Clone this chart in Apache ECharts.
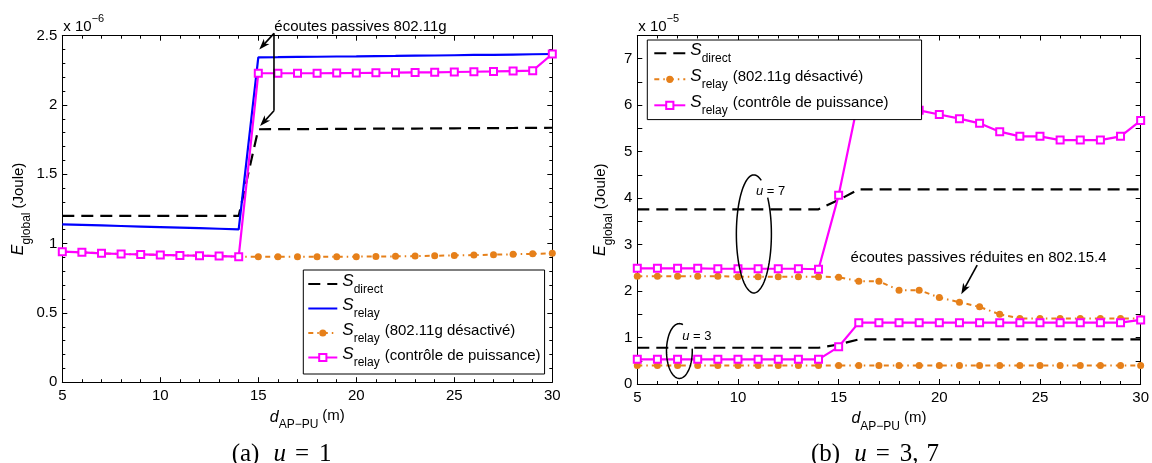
<!DOCTYPE html>
<html><head><meta charset="utf-8">
<script src="https://cdn.jsdelivr.net/npm/echarts@6/dist/echarts.min.js"></script>
<style>html,body{margin:0;padding:0;background:#fff}#c{width:1152px;height:463px}</style>
</head><body><div id="c"></div>
<script>
// ---------- DATA ----------
const xs = [5,6,7,8,9,10,11,12,13,14,15,16,17,18,19,20,21,22,23,24,25,26,27,28,29,30];
// (a) u = 1, values in units of 1e-6 J
const a_direct   = [1.2,1.2,1.2,1.2,1.2,1.2,1.2,1.2,1.2,1.2,1.825,1.826,1.826,1.827,1.828,1.828,1.829,1.830,1.830,1.831,1.832,1.833,1.833,1.834,1.835,1.836];
const a_relay    = [1.139,1.135,1.131,1.127,1.123,1.119,1.115,1.111,1.107,1.103,2.344,2.345,2.347,2.348,2.350,2.351,2.353,2.354,2.356,2.357,2.359,2.361,2.362,2.364,2.366,2.368];
const a_relayOff = [0.942,0.937,0.930,0.925,0.922,0.918,0.915,0.913,0.910,0.906,0.906,0.905,0.905,0.905,0.906,0.906,0.907,0.908,0.910,0.912,0.915,0.917,0.920,0.923,0.926,0.930];
const a_relayPc  = [0.942,0.937,0.930,0.925,0.922,0.918,0.915,0.913,0.910,0.906,2.229,2.229,2.229,2.229,2.230,2.231,2.232,2.233,2.235,2.236,2.238,2.240,2.242,2.245,2.248,2.368];
// (b) u = 3, 7, values in units of 1e-5 J
const b_direct7   = [3.76,3.76,3.76,3.76,3.76,3.76,3.76,3.76,3.76,3.76,3.96,4.19,4.19,4.19,4.19,4.19,4.19,4.19,4.19,4.19,4.19,4.19,4.19,4.19,4.19,4.19];
const b_relayOff7 = [2.32,2.32,2.32,2.32,2.32,2.31,2.31,2.31,2.31,2.31,2.30,2.21,2.21,2.02,2.02,1.86,1.76,1.66,1.50,1.41,1.41,1.41,1.41,1.41,1.41,1.41];
const b_relayPc7  = [2.49,2.49,2.49,2.49,2.48,2.48,2.48,2.48,2.48,2.47,4.06,6.15,6.05,5.97,5.89,5.80,5.71,5.61,5.43,5.33,5.33,5.25,5.25,5.25,5.33,5.67];
const b_direct3   = [0.78,0.78,0.78,0.78,0.78,0.78,0.78,0.78,0.78,0.78,0.85,0.96,0.96,0.96,0.96,0.96,0.96,0.96,0.96,0.96,0.96,0.96,0.96,0.96,0.96,0.96];
const b_relayOff3 = [0.40,0.40,0.40,0.40,0.40,0.40,0.40,0.40,0.40,0.40,0.40,0.40,0.40,0.40,0.40,0.40,0.40,0.40,0.40,0.40,0.40,0.40,0.40,0.40,0.40,0.40];
const b_relayPc3  = [0.53,0.53,0.53,0.53,0.53,0.53,0.53,0.53,0.53,0.53,0.80,1.32,1.32,1.32,1.32,1.32,1.32,1.32,1.32,1.32,1.32,1.32,1.32,1.32,1.32,1.38];
// axis ranges / ticks
const xRange = [5, 30], xStep = 5;
const yRangeA = [0, 2.5], yStepA = 0.5;
const yRangeB = [0, 7.5], yStepB = 0.5;
// texts
const legendText = {
  S_direct: '{s|S}{sub|direct}',
  S_relay: '{s|S}{sub|relay}',
  S_relay_off: '{s|S}{sub|relay}{t|(802.11g désactivé)}',
  S_relay_pc: '{s|S}{sub|relay}{t|(contrôle de puissance)}'
};
const annotA = 'écoutes passives 802.11g';
const annotB = 'écoutes passives réduites en 802.15.4';

// ---------- STYLE ----------
const ff = "'Liberation Sans', Arial, Helvetica, sans-serif";
const serif = "'Liberation Serif', 'DejaVu Serif', serif";
const STY = {
  S_direct:    {color:'#000000', width:2.2, type:[12,7], symbol:'none'},
  S_relay:     {color:'#0000ff', width:2.2, type:'solid', symbol:'none'},
  S_relay_off: {color:'#e6801a', width:2, type:[5,4,1.5,4], symbol:'circle', size:7},
  S_relay_pc:  {color:'#ff00ff', width:2.2, type:'solid', symbol:'emptyRect', size:7}
};
function ser(name, ys, ax){
  const s = STY[name];
  return {
    type:'line', name, xAxisIndex:ax, yAxisIndex:ax,
    data: xs.map((x,i)=>[x, ys[i]]),
    symbol: s.symbol === 'none' ? 'none' : s.symbol, symbolSize: s.size || 0,
    showSymbol: s.symbol !== 'none',
    itemStyle:{color:s.color},
    lineStyle:{color:s.color, width:s.width, type:s.type},
    emphasis:{disabled:true}, silent:true, animation:false
  };
}
function xAx(gi, pos, show){
  return {
    type:'value', gridIndex:gi, position:pos, min:xRange[0], max:xRange[1], interval:xStep,
    axisLine:{show:true, onZero:false, lineStyle:{color:'#000', width:1}},
    axisTick:{show:true, inside:true, length:5, lineStyle:{color:'#000', width:1}},
    minorTick:{show:true, splitNumber:5, length:3, lineStyle:{color:'#000', width:1}},
    splitLine:{show:false}, minorSplitLine:{show:false},
    axisLabel:{show:show, color:'#000', fontFamily:ff, fontSize:15, margin:6},
    name: show ? '{d|d}{sub|AP\u2212PU}{t|(m)}' : '',
    nameLocation:'middle', nameGap:20,
    nameTextStyle:{fontFamily:ff, fontSize:15, color:'#000', rich:{
      d:{fontFamily:ff, fontSize:16, fontStyle:'italic', color:'#000', verticalAlign:'bottom', padding:[0,0,6,0]},
      sub:{fontFamily:ff, fontSize:12, color:'#000', verticalAlign:'bottom'},
      t:{fontFamily:ff, fontSize:15, color:'#000', verticalAlign:'bottom', padding:[0,0,8,4]}
    }}
  };
}
function yAx(gi, pos, show, range, step, minorSplit, intOnly){
  return {
    type:'value', gridIndex:gi, position:pos, min:range[0], max:range[1], interval:step,
    axisLine:{show:true, onZero:false, lineStyle:{color:'#000', width:1}},
    axisTick:{show:true, inside:true, length:5, lineStyle:{color:'#000', width:1}},
    minorTick:{show:minorSplit>0, splitNumber:minorSplit||1, length:3, lineStyle:{color:'#000', width:1}},
    splitLine:{show:false}, minorSplitLine:{show:false},
    axisLabel:{show:show, color:'#000', fontFamily:ff, fontSize:15, margin:5,
      formatter: v => intOnly ? (Math.abs(v-Math.round(v))<1e-9 ? String(Math.round(v)) : '') : String(+v.toFixed(2))},
    name: show ? '{e|E}{sub|global}{t|(Joule)}' : '',
    nameLocation:'middle', nameRotate:90, nameGap: gi===0 ? 28 : 23,
    nameTextStyle:{fontFamily:ff, fontSize:15, color:'#000', rich:{
      e:{fontFamily:ff, fontSize:16, fontStyle:'italic', color:'#000', verticalAlign:'bottom', padding:[0,0,6,0]},
      sub:{fontFamily:ff, fontSize:12, color:'#000', verticalAlign:'bottom'},
      t:{fontFamily:ff, fontSize:15, color:'#000', verticalAlign:'bottom', padding:[0,0,6,4]}
    }}
  };
}
const richLeg = {
  s:{fontFamily:ff, fontSize:17, fontStyle:'italic', color:'#000', verticalAlign:'bottom', padding:[0,0,6,0]},
  sub:{fontFamily:ff, fontSize:12, color:'#000', verticalAlign:'bottom'},
  t:{fontFamily:ff, fontSize:15, color:'#000', verticalAlign:'bottom', padding:[0,0,6,5]}
};
function legend(left, top, names, gap, pad, iw){
  return {
    orient:'vertical', left, top, selectedMode:false,
    data: names.map(n => STY[n].symbol === 'none' ? {name:n, itemStyle:{opacity:0}} : n),
    formatter: n => legendText[n],
    textStyle:{fontFamily:ff, fontSize:15, color:'#000', rich:richLeg},
    itemWidth:iw, itemHeight:9, itemGap:gap, padding:pad,
    borderColor:'#000', borderWidth:1, backgroundColor:'#fff', z:10
  };
}

const chart = echarts.init(document.getElementById('c'));
chart.setOption({
  animation:false, backgroundColor:'#fff',
  grid:[
    {left:62.3, top:35.7, width:490, height:346.5},
    {left:637.3, top:35.5, width:507, height:348.5}
  ],
  xAxis:[xAx(0,'bottom',true), xAx(0,'top',false), xAx(1,'bottom',true), xAx(1,'top',false)],
  yAxis:[
    yAx(0,'left',true,yRangeA,yStepA,5,false), yAx(0,'right',false,yRangeA,yStepA,5,false),
    yAx(1,'left',true,yRangeB,yStepB,0,true), yAx(1,'right',false,yRangeB,yStepB,0,true)
  ],
  legend:[
    legend(303.3, 270, ['S_direct','S_relay','S_relay_off','S_relay_pc'], 1.5, [2.5,4,5,4], 29),
    legend(647.3, 40, ['S_direct','S_relay_off','S_relay_pc'], 3, [1.8,33,2.8,6], 31)
  ],
  series:[
    ser('S_direct', a_direct, 0),
    ser('S_relay', a_relay, 0),
    ser('S_relay_off', a_relayOff, 0),
    ser('S_relay_pc', a_relayPc, 0),
    ser('S_direct', b_direct7, 2),
    ser('S_relay_off', b_relayOff7, 2),
    ser('S_relay_pc', b_relayPc7, 2),
    ser('S_direct', b_direct3, 2),
    ser('S_relay_off', b_relayOff3, 2),
    ser('S_relay_pc', b_relayPc3, 2)
  ]
});

// ---------- ANNOTATIONS (placed via data->pixel conversion) ----------
function P(g, x, y){ const i = g===0 ? 0 : 2; return chart.convertToPixel({xAxisIndex:i, yAxisIndex:i}, [x, y]); }
const K = '#000';
function arrow(p0, p1){
  const dx=p1[0]-p0[0], dy=p1[1]-p0[1], L=Math.hypot(dx,dy), ux=dx/L, uy=dy/L, nx=-uy, ny=ux;
  const hl=11, hw=3.8, nd=3;
  const b=[p1[0]-ux*hl, p1[1]-uy*hl];
  return [
    {type:'line', z:30, shape:{x1:p0[0],y1:p0[1],x2:p1[0]-ux*5,y2:p1[1]-uy*5}, style:{stroke:K, lineWidth:1.6}},
    {type:'polygon', z:30, shape:{points:[p1,[b[0]+nx*hw,b[1]+ny*hw],[p1[0]-ux*(hl-nd),p1[1]-uy*(hl-nd)],[b[0]-nx*hw,b[1]-ny*hw]]}, style:{fill:K}}
  ];
}
function ellArc(g, cx, cy, rxd, ryd, a1, a2){
  const c = P(g, cx, cy), r1 = P(g, cx+rxd, cy), r2 = P(g, cx, cy+ryd);
  const rx = Math.abs(r1[0]-c[0]), ry = Math.abs(r2[1]-c[1]);
  const pts = [];
  const n = 90;
  for (let k=0;k<=n;k++){ const t=(a1+(a2-a1)*k/n)*Math.PI/180; pts.push([c[0]+rx*Math.cos(t), c[1]+ry*Math.sin(t)]); }
  return {type:'polyline', z:30, shape:{points:pts}, style:{stroke:K, lineWidth:1.5, fill:null}};
}
function txt(p, text, opt){
  return {type:'text', z:31, style:Object.assign({x:p[0], y:p[1], text, fill:'#000', font:'15px '+ff, align:'left', verticalAlign:'middle'}, opt||{})};
}
const els = [];
// (a)
const aTop = P(0, 15.8, 2.517), aBot = P(0, 15.8, 1.959);
els.push({type:'line', z:30, shape:{x1:aTop[0],y1:aTop[1],x2:aBot[0],y2:aBot[1]}, style:{stroke:K, lineWidth:1.6}});
els.push(...arrow(aTop, P(0, 15.05, 2.40)));
els.push(...arrow(aBot, P(0, 15.09, 1.848)));
els.push(txt(P(0, 15.82, 2.566), annotA));
// (b)
els.push(txt(P(1, 21.95, 2.72), annotB, {align:'center'}));
els.push(...arrow(P(1, 21.88, 2.56), P(1, 21.09, 1.93)));
els.push(ellArc(1, 10.79, 3.23, 0.87, 1.27, -65, -398));
els.push(ellArc(1, 7.09, 0.71, 0.64, 0.59, -74, -365));
const uRich = {i:{fontFamily:ff, fontSize:13, fontStyle:'italic', fill:'#000'}, n:{fontFamily:ff, fontSize:13, fill:'#000'}};
els.push({type:'text', z:31, style:{x:P(1,11.62,4.14)[0], y:P(1,11.62,4.14)[1], text:'{i|u}{n| = 7}', rich:uRich, align:'center', verticalAlign:'middle'}});
els.push({type:'text', z:31, style:{x:P(1,7.96,1.03)[0], y:P(1,7.96,1.03)[1], text:'{i|u}{n| = 3}', rich:uRich, align:'center', verticalAlign:'middle'}});
// exponent labels
const expRich = {n:{fontFamily:ff, fontSize:15, fill:'#000', verticalAlign:'top', padding:[6,0,0,0]}, p:{fontFamily:ff, fontSize:11, fill:'#000', verticalAlign:'top'}};
const ca = P(0, 5, 2.5), cb = P(1, 5, 7.5);
els.push({type:'text', z:31, style:{x:ca[0]+1, y:ca[1]-22.5, text:'{n|x 10}{p|\u22126}', rich:expRich, align:'left', verticalAlign:'top'}});
els.push({type:'text', z:31, style:{x:cb[0]+1, y:cb[1]-22.5, text:'{n|x 10}{p|\u22125}', rich:expRich, align:'left', verticalAlign:'top'}});
// captions
const capRich = {
  n:{fontFamily:serif, fontSize:25, fill:'#000'},
  u:{fontFamily:serif, fontSize:25, fontStyle:'italic', fill:'#000', padding:[0,7,0,14]},
  e:{fontFamily:serif, fontSize:25, fill:'#000', padding:[0,10,0,2]},
  s:{fontFamily:serif, fontSize:25, fill:'#000', padding:[0,0,0,8]}
};
els.push({type:'text', z:31, style:{x:231.7, y:454, text:'{n|(a)}{u|u}{e|=}{n|1}', rich:capRich, align:'left', verticalAlign:'middle'}});
els.push({type:'text', z:31, style:{x:811, y:454, text:'{n|(b)}{u|u}{e|=}{n|3,}{s|7}', rich:capRich, align:'left', verticalAlign:'middle'}});

chart.setOption({graphic:{elements:els}});
</script>
</body></html>
